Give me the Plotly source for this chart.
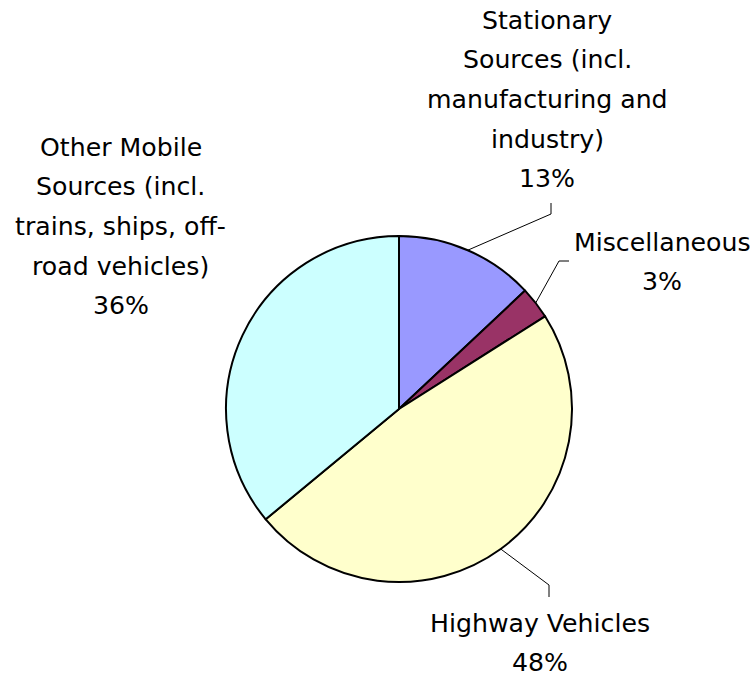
import math
import plotly.graph_objects as go

# Emission sources and their shares (%)
categories = [
    "Stationary Sources (incl. manufacturing and industry)",
    "Miscellaneous",
    "Highway Vehicles",
    "Other Mobile Sources (incl. trains, ships, off-road vehicles)",
]
shares = [13, 3, 48, 36]
label_lines = [
    ["Stationary", "Sources (incl.", "manufacturing and", "industry)"],
    ["Miscellaneous"],
    ["Highway Vehicles"],
    ["Other Mobile", "Sources (incl.", "trains, ships, off-", "road vehicles)"],
]
slice_colors = ["#9999FF", "#993366", "#FFFFCC", "#CCFFFF"]

# Page geometry (pixels)
W, H = 754, 679
CX, CY, R = 399, 409, 173
FONT = dict(family="DejaVu Sans", size=25.2, color="#000000")
LINE_STEP = 39.7

# Label block placement: (center x, first line center y) in pixels
label_pos = [(547, 20), (662, 242), (540, 623), (121, 147)]
# Leader line elbow and end (pixels); None = no leader line
leaders = [((551, 214), (551, 203)),
           ((559, 261), (569, 261)),
           ((549, 585), (549, 597)),
           None]


def px(x):
    return x / W


def py(y):
    return 1 - y / H


fig = go.Figure(go.Pie(
    labels=categories,
    values=shares,
    sort=False,
    direction="clockwise",
    rotation=0,
    marker=dict(colors=slice_colors, line=dict(color="#000000", width=2)),
    textinfo="none",
    hoverinfo="skip",
    showlegend=False,
    domain=dict(x=[px(CX - R), px(CX + R)], y=[py(CY + R), py(CY - R)]),
))

annotations = []
shapes = []
total = sum(shares)
cum = 0
for i, v in enumerate(shares):
    mid = (cum + v / 2) / total * 2 * math.pi
    cum += v
    bx, by = label_pos[i]
    lines = label_lines[i] + [f"{v}%"]
    for k, t in enumerate(lines):
        annotations.append(dict(
            x=px(bx), y=py(by + k * LINE_STEP), xref="paper", yref="paper",
            text=t, showarrow=False, xanchor="center", yanchor="middle",
            font=FONT,
        ))
    if leaders[i] is not None:
        ex = CX + R * math.sin(mid)
        ey = CY - R * math.cos(mid)
        (mx, my), (tx, ty) = leaders[i]
        path = (f"M {px(ex)} {py(ey)} L {px(mx)} {py(my)} "
                f"L {px(tx)} {py(ty)}")
        shapes.append(dict(type="path", xref="paper", yref="paper",
                           path=path, line=dict(color="#000000", width=1)))

fig.update_layout(
    width=W, height=H,
    margin=dict(l=0, r=0, t=0, b=0),
    paper_bgcolor="#FFFFFF",
    plot_bgcolor="#FFFFFF",
    annotations=annotations,
    shapes=shapes,
)

fig.write_html("out.html")
